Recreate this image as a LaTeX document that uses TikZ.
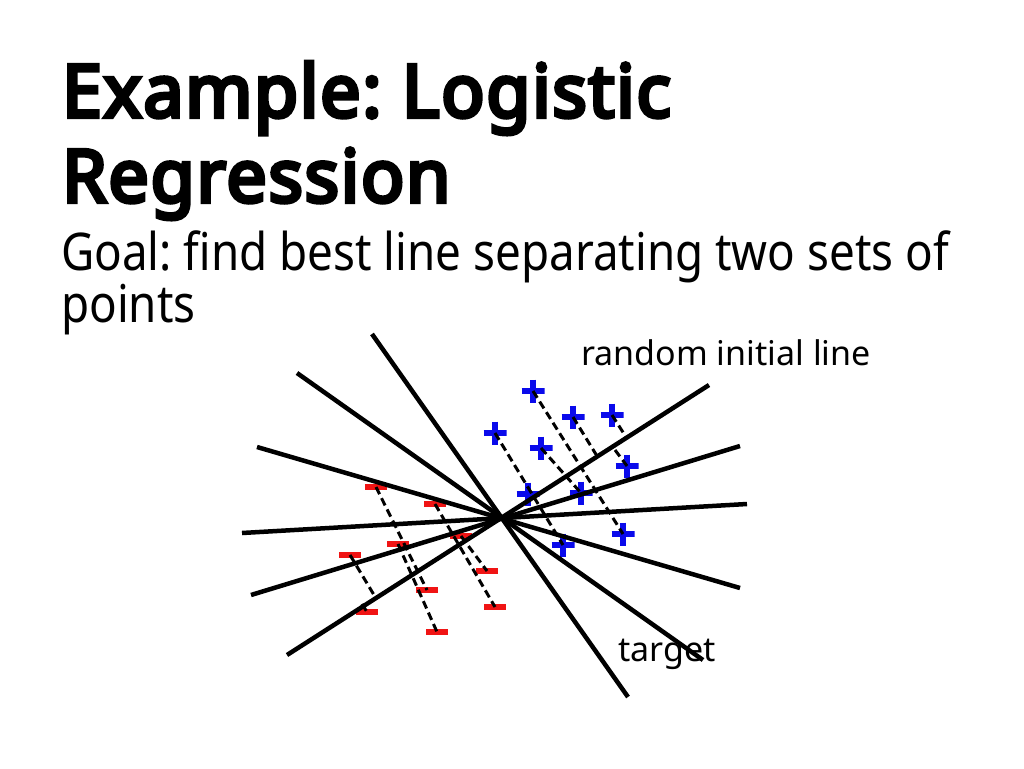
\documentclass[tikz,border=0pt]{standalone}
\usepackage{fontspec}
\setmainfont{Noto Sans}
\IfFontExistsTF{Noto Sans Bold}
  {\newfontfamily\titlefont{Noto Sans Bold}}
  {\newfontfamily\titlefont{Noto Sans}[FakeBold=5.5, FakeStretch=0.98, LetterSpace=2.5]}
\newfontfamily\bodyfont{Noto Sans}[FakeStretch=0.88]
\definecolor{pblue}{RGB}{10,10,235}
\definecolor{mred}{RGB}{240,20,20}
\tikzset{
  solidline/.style={line width=4.5pt, black},
  dashline/.style={line width=3pt, black, dash pattern=on 8pt off 4.5pt},
  plusm/.style={inner sep=0pt, minimum size=23pt, path picture={
      \draw[line width=5.5pt,pblue] (path picture bounding box.west)--(path picture bounding box.east)
        (path picture bounding box.north)--(path picture bounding box.south);}},
  minusm/.style={inner sep=0pt, minimum width=22pt, minimum height=5.5pt, fill=mred},
  titletext/.style={anchor=base west, inner sep=0pt, font=\titlefont\fontsize{73}{85}\selectfont\frenchspacing},
  bodytext/.style={anchor=base west, inner sep=0pt, font=\bodyfont\fontsize{52}{60}\selectfont\frenchspacing},
  labeltext/.style={anchor=base west, inner sep=0pt, font=\fontsize{34}{40}\selectfont},
}
\begin{document}
\begin{tikzpicture}[x=1pt,y=-1pt]
\useasboundingbox[fill=white] (0,0) rectangle (1024,768);

% texts
\node[titletext] (t1) at (62,117) {Example: Logistic};
\node[titletext] (t2) at (62,202) {Regression};
\node[bodytext] (b1) at (61,270) {Goal: find best line separating two sets of};
\node[bodytext] (b2) at (61,322) {points};
\node[labeltext] (lrand) at (581,365) {random initial line};
\node[labeltext] (ltarget) at (618,661) {target};

% positive points
\node[plusm] (p1) at (533,391) {};
\node[plusm] (p2) at (573,417) {};
\node[plusm] (p3) at (612,415) {};
\node[plusm] (p4) at (495,433) {};
\node[plusm] (p5) at (541,448) {};
\node[plusm] (p6) at (627,466) {};
\node[plusm] (p7) at (528,494) {};
\node[plusm] (p8) at (581,493) {};
\node[plusm] (p9) at (623,534) {};
\node[plusm] (p10) at (563,545) {};

% negative points
\node[minusm] (m1) at (376,487) {};
\node[minusm] (m2) at (435,504) {};
\node[minusm] (m3) at (461,536) {};
\node[minusm] (m4) at (398,544) {};
\node[minusm] (m5) at (350,555) {};
\node[minusm] (m6) at (487,571) {};
\node[minusm] (m7) at (427,590) {};
\node[minusm] (m8) at (495,607) {};
\node[minusm] (m9) at (367,612) {};
\node[minusm] (m10) at (437,632) {};

% feet of dashed segments on lines
\coordinate (f2) at (597,456);
\coordinate (f3) at (626,437);
\coordinate (f6) at (615,450);
\coordinate (f5) at (374,595);
\coordinate (f9) at (362,604);

% dashed segments
\draw[dashline] (p4.center) -- (p10.center);
\draw[dashline] (p1.center) -- (p9.center);
\draw[dashline] (p2.center) -- (f2);
\draw[dashline] (p3.center) -- (f3);
\draw[dashline] (f6) -- (p6.center);
\draw[dashline] (p5.center) -- (p8.center);
\draw[dashline] (m1.center) -- (m7.center);
\draw[dashline] (m2.center) -- (m8.center);
\draw[dashline] (m3.center) -- (m6.center);
\draw[dashline] (m4.center) -- (m10.center);
\draw[dashline] (m5.center) -- (f5);
\draw[dashline] (f9) -- (m9.center);

% line end points
\coordinate (c) at (500,518);
\coordinate (a1) at (372,334); \coordinate (a2) at (628,697);
\coordinate (bb1) at (297,373); \coordinate (bb2) at (703,660);
\coordinate (c1) at (257,447); \coordinate (c2) at (740,588);
\coordinate (d1) at (242,533); \coordinate (d2) at (747,504);
\coordinate (e1) at (251,595); \coordinate (e2) at (740,446);
\coordinate (ff1) at (287,655); \coordinate (ff2) at (709,385);

% solid lines
\draw[solidline] (a1) -- (a2);
\draw[solidline] (bb1) -- (bb2);
\draw[solidline] (c1) -- (c2);
\draw[solidline] (d1) -- (d2);
\draw[solidline] (e1) -- (e2);
\draw[solidline] (ff1) -- (ff2);
\end{tikzpicture}
\end{document}
